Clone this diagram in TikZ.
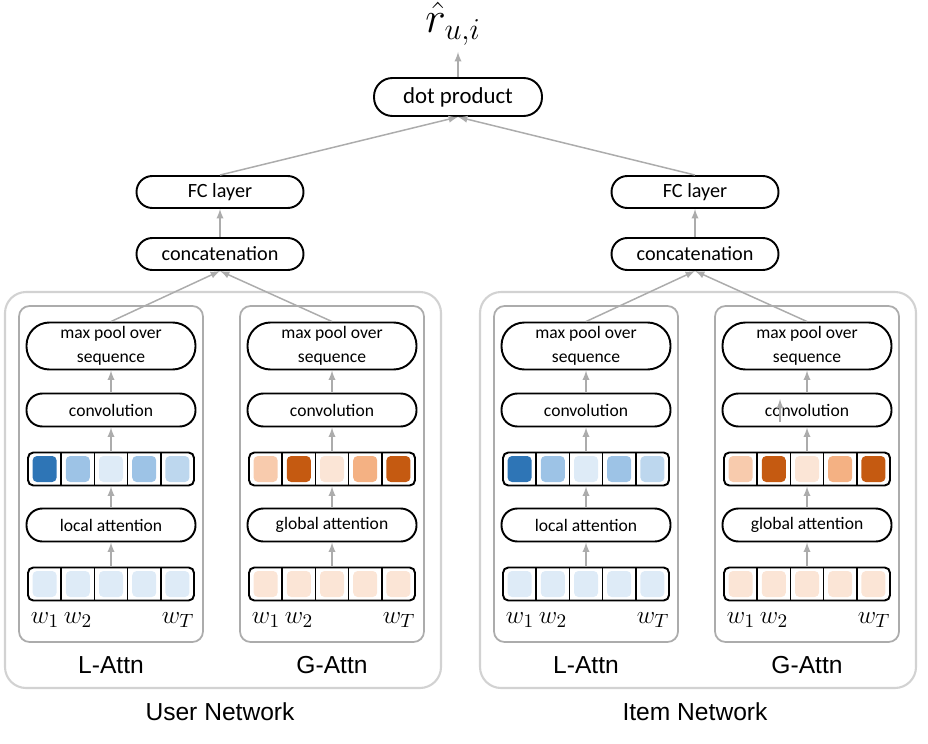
\documentclass[tikz,border=0pt]{standalone}
\usepackage{fontspec}
\setmainfont{Carlito}
\newfontfamily\arialfont{Liberation Sans}
\definecolor{bA}{HTML}{2E75B6}
\definecolor{bB}{HTML}{9DC3E6}
\definecolor{bC}{HTML}{DEEBF7}
\definecolor{bD}{HTML}{BDD7EE}
\definecolor{oA}{HTML}{C55A11}
\definecolor{oB}{HTML}{F4B183}
\definecolor{oC}{HTML}{F8CBAD}
\definecolor{oD}{HTML}{FBE5D6}
\tikzset{
  pill/.style={draw,line width=1.1pt,rounded corners=9pt,minimum width=3.38cm,minimum height=0.66cm,
    inner sep=1pt,align=center,font=\fontsize{10}{13.5}\selectfont},
  toppill/.style={pill,minimum width=3.34cm,minimum height=0.64cm,font=\fontsize{11.5}{13}\selectfont},
  rowbox/.style={draw,line width=1.1pt,rounded corners=3pt,minimum width=3.32cm,minimum height=0.66cm},
  flow/.style={->,draw=gray!65,line width=0.85pt},
  panel/.style={draw=gray!65,line width=1pt,rounded corners=6pt},
  netbox/.style={draw=gray!35,line width=1.2pt,rounded corners=12pt},
  tagtext/.style={font=\arialfont\fontsize{14}{16}\selectfont},
  wlabel/.style={font=\fontsize{15}{17}\selectfont}
}
% one row of five word cells
\newcommand{\wordrow}[4]{%
  \foreach \c [count=\i] in {#4}
    \fill[\c,rounded corners=2.5pt] (#2-83+33.2*\i-28.6,#3-13) rectangle ++(24,26);
  \foreach \i in {1,...,4}
    \draw[line width=1pt] (#2-83+33.2*\i,#3-16.5)--++(0,33);
  \node[rowbox] (#1) at (#2,#3) {};
}
% one attention column
\newcommand{\attncol}[6]{%
  \draw[panel] (#2-92,306) rectangle (#2+92,642);
  \node[pill,minimum height=0.94cm,rounded corners=13pt] (#1pool) at (#2,346) {max pool over\\sequence};
  \node[pill] (#1conv) at (#2,410) {convolution};
  \wordrow{#1wt}{#2}{469}{#4}
  \node[pill] (#1att) at (#2,525) {#3};
  \wordrow{#1in}{#2}{584}{#5}
  \node[wlabel] (#1w1) at (#2-66,620) {$w_1$};
  \node[wlabel] (#1w2) at (#2-33,620) {$w_2$};
  \node[wlabel] (#1wT) at (#2+67,620) {$w_T$};
  \node[tagtext] (#1tag) at (#2,665) {#6};
  \draw[flow] (#1in)--(#1att);
  \draw[flow] (#1att)--(#1wt);
  \draw[flow] (#1wt)--(#1conv);
  \draw[flow] (#1conv)--(#1pool);
}
\begin{document}
\begin{tikzpicture}[>=latex,x=0.02cm,y=-0.02cm]
\useasboundingbox (0,0) rectangle (928,743);
\node[toppill,minimum width=3.36cm,minimum height=0.76cm,rounded corners=10.5pt,font=\fontsize{13}{15}\selectfont] (dot) at (458,97) {dot product};
\node[font=\fontsize{23}{26}\selectfont] (rhat) at (453,24) {$\hat{r}_{u,i}$};
\draw[flow] (dot.north)--(458,52);
\foreach \dx/\nt in {0/User,475/Item}{
  \draw[netbox] (5+\dx,292) rectangle (441+\dx,688);
  \node[tagtext] (\nt name) at (220+\dx,712) {\nt\ Network};
  \attncol{\nt L}{111+\dx}{local attention}{bA,bB,bC,bB,bD}{bC,bC,bC,bC,bC}{L-Attn}
  \attncol{\nt G}{332+\dx}{global attention}{oC,oA,oD,oB,oA}{oD,oD,oD,oD,oD}{G-Attn}
  \node[toppill] (\nt cat) at (220+\dx,254) {concatenation};
  \node[toppill] (\nt fc) at (220+\dx,192) {FC layer};
  \draw[flow] (\nt Lpool.north)--(\nt cat.south);
  \draw[flow] (\nt Gpool.north)--(\nt cat.south);
  \draw[flow] (\nt cat)--(\nt fc);
  \draw[flow] (\nt fc.north)--(dot.south);
}
\coordinate (s1) at (780,422);
\coordinate (s2) at (780,399);
\draw[flow] (s1)--(s2);
\end{tikzpicture}
\end{document}
